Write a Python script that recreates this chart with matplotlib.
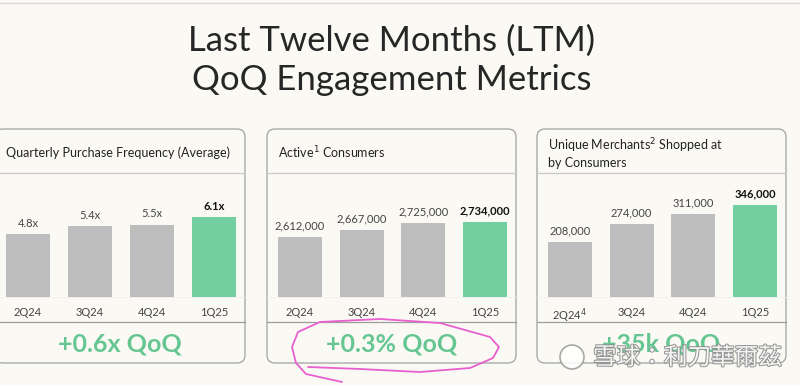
import numpy as np
import matplotlib
matplotlib.use('Agg')
import matplotlib.pyplot as plt
from matplotlib.patches import FancyBboxPatch, Circle
import matplotlib.patheffects as pe

plt.rcParams['font.family'] = ['Lato', 'DejaVu Sans']

# ---- data
quarters = ['2Q24', '3Q24', '4Q24', '1Q25']
merchant_quarters = ['2Q24$^{4}$', '3Q24', '4Q24', '1Q25']

freq = [4.8, 5.4, 5.5, 6.1]
freq_labels = ['4.8x', '5.4x', '5.5x', '6.1x']

consumers = [2612000, 2667000, 2725000, 2734000]
consumer_labels = ['2,612,000', '2,667,000', '2,725,000', '2,734,000']

merchants = [208000, 274000, 311000, 346000]
merchant_labels = ['208,000', '274,000', '311,000', '346,000']

titles = ['Quarterly Purchase Frequency (Average)',
          'Active$^{1}$ Consumers',
          'Unique Merchants$^{2}$ Shopped at\nby Consumers']
qoq = ['+0.6x QoQ', '+0.3% QoQ', '+35k QoQ']

# ---- style
BG = '#fbf9f4'
GREY = '#bdbdbd'
GREEN = '#73cf9f'
GREEN_TXT = '#66c692'
W, H = 800, 385

fig = plt.figure(figsize=(W / 100, H / 100), dpi=100, facecolor=BG)

# overlay in pixel coords (y down)
ov = fig.add_axes([0, 0, 1, 1], zorder=0)
ov.set_xlim(0, W)
ov.set_ylim(H, 0)
ov.axis('off')
ov.set_facecolor(BG)

ov.plot([0, W], [3, 3], color='#d8d8d8', lw=1)

ov.text(392, 41, 'Last Twelve Months (LTM)', ha='center', va='center',
        fontsize=25, fontweight='normal', color='#262626')
ov.text(392, 80, 'QoQ Engagement Metrics', ha='center', va='center',
        fontsize=25, fontweight='normal', color='#262626')

boxes = [(-5, 245), (267, 516), (537, 786)]
box_top, box_bot = 129, 363
hdr_line, base_y, foot_line = 173, 297, 322

for (x0, x1), t, q in zip(boxes, titles, qoq):
    ov.add_patch(FancyBboxPatch((x0, box_top), x1 - x0, box_bot - box_top,
                                boxstyle='round,pad=0,rounding_size=8',
                                fc=BG, ec='#a9a9a9', lw=1.0))
    ov.plot([x0, x1], [hdr_line, hdr_line], color='#c9c9c9', lw=0.9)
    ov.plot([x0, x1], [foot_line, foot_line], color='#9c9c9c', lw=0.9)
    ov.plot([x0, x1], [base_y, base_y], color='#eeeeee', lw=0.6)
    ov.text(x0 + 11, 153, t, ha='left', va='center', fontsize=9,
            color='#222222', linespacing=1.2)
    ov.text((x0 + x1) / 2, 344, q, ha='center', va='center', fontsize=18,
            fontweight='bold', color=GREEN_TXT)

# ---- bar panels
panels = [
    (freq, freq_labels, quarters, (0, 9.47)),
    (consumers, consumer_labels, quarters, (2124000, 3132000)),
    (merchants, merchant_labels, merchant_quarters, (0, 465000)),
]
colors = [GREY, GREY, GREY, GREEN]

for (x0, x1), (vals, labs, cats, ylim) in zip(boxes, panels):
    ax = fig.add_axes([(x0 + 2) / W, 1 - base_y / H, (x1 - x0 - 2) / W,
                       (base_y - hdr_line) / H], zorder=2)
    ax.patch.set_alpha(0)
    x = np.arange(len(vals))
    ax.bar(x, vals, width=0.71, color=colors)
    ax.set_xlim(-0.5, len(vals) - 0.5)
    ax.set_ylim(*ylim)
    for i, (v, l) in enumerate(zip(vals, labs)):
        last = i == len(vals) - 1
        ax.annotate(l, (i, v), xytext=(0, 4), textcoords='offset points',
                    ha='center', va='bottom', fontsize=8,
                    color='#111111' if last else '#444444',
                    fontweight='bold' if last else 'normal')
    ax.set_xticks(x, cats)
    ax.tick_params(axis='x', length=0, pad=7, labelsize=8, labelcolor='#444444')
    ax.set_yticks([])
    for s in ax.spines.values():
        s.set_visible(False)

# ---- hand-drawn pink loop around the middle QoQ figure
loop_x = [308, 360, 420, 470, 493, 499, 490, 440, 380, 320, 298, 292, 296, 306, 342]
loop_y = [367, 369, 372, 368, 358, 347, 337, 323, 319, 322, 332, 347, 363, 374, 382]
ov.plot(loop_x, loop_y, color='#e85fd0', lw=1.3, solid_capstyle='round',
        solid_joinstyle='round', zorder=5)

# ---- watermark
ov.add_patch(Circle((572, 357), 12, fc='white', ec='#9a9a9a', lw=1.2, alpha=0.85, zorder=6))
ov.text(593, 358, '雪球：利刀華爾茲', ha='left', va='center', fontsize=17,
        family=['Noto Sans CJK TC', 'DejaVu Sans'], color='white', alpha=0.9, zorder=6,
        path_effects=[pe.withStroke(linewidth=1.5, foreground='#8c8c8c')])

fig.savefig('out.png', dpi=100, facecolor=BG)
